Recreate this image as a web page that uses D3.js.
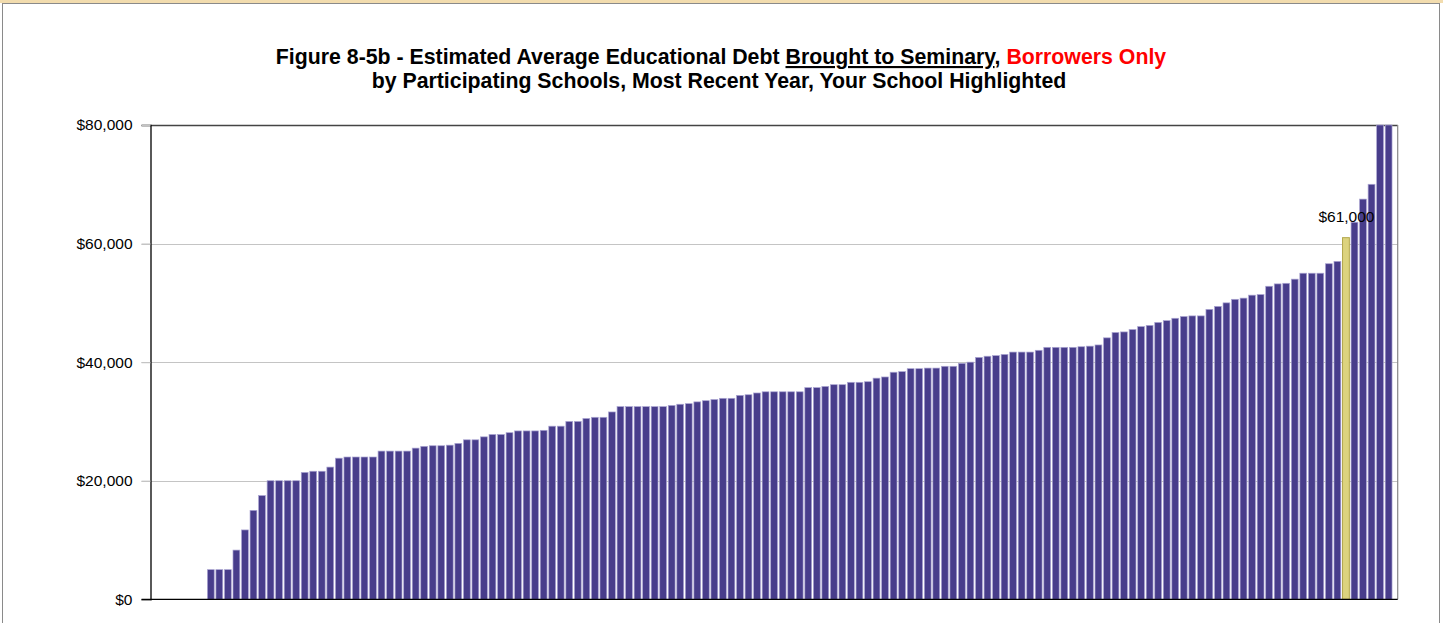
<!DOCTYPE html>
<html>
<head>
<meta charset="utf-8">
<script src="https://cdn.jsdelivr.net/npm/d3@7"></script>
<style>
  html, body { margin: 0; padding: 0; background: #fff; }
  svg { display: block; font-family: "Liberation Sans", Arial, sans-serif; }
</style>
</head>
<body>
<svg id="chart" width="1443" height="623"></svg>
<script>
// ---- data ----
// Schools (first six have no reported value)
const debt = [
  null, null, null, null, null, null,
  5000, 5000, 5000, 8300, 11700, 15000, 17500, 20000, 20000, 20000,
  20000, 21400, 21600, 21600, 22300, 23800, 24000, 24000, 24000, 24000,
  25000, 25000, 25000, 25000, 25500, 25800, 25900, 25900, 26000, 26300,
  26900, 26900, 27400, 27800, 27800, 28100, 28400, 28400, 28400, 28500,
  29200, 29200, 30000, 30000, 30500, 30700, 30700, 31600, 32500, 32500,
  32500, 32500, 32500, 32500, 32700, 32900, 33000, 33300, 33500, 33700,
  33900, 33900, 34400, 34500, 34800, 35000, 35000, 35000, 35000, 35000,
  35700, 35700, 35900, 36200, 36200, 36600, 36600, 36700, 37300, 37500,
  38300, 38400, 38900, 38900, 39000, 39000, 39300, 39300, 39800, 40000,
  40800, 41000, 41100, 41300, 41700, 41700, 41700, 42000, 42500, 42500,
  42500, 42500, 42600, 42700, 42900, 44100, 45000, 45100, 45500, 46000,
  46200, 46700, 47000, 47400, 47700, 47800, 47800, 48900, 49400, 50000,
  50600, 50800, 51300, 51400, 52800, 53200, 53300, 54000, 55000, 55000,
  55000, 56600, 57000, 61000, 63600, 67500, 70000, 85000, 90000
];
const schools = debt.map((d, i) => "School " + (i + 1));
const yourSchool = "School 140";
const yourLabel = "$61,000";
const yTicks = [0, 20000, 40000, 60000, 80000];
const yTickLabels = ["$0", "$20,000", "$40,000", "$60,000", "$80,000"];

// ---- layout ----
const svg = d3.select("#chart");
const W = 1443, H = 623;
const plot = { left: 150.5, right: 1397.7, top: 125, bottom: 599.3 };

// frame
svg.append("rect").attr("x", 0).attr("y", 0).attr("width", W).attr("height", 3).attr("fill", "#f2dcae");
svg.append("rect").attr("x", 2.5).attr("y", 3.5).attr("width", 1437).attr("height", 640)
  .attr("fill", "#fff").attr("stroke", "#8a8a8a").attr("stroke-width", 1);

// title
const t1 = svg.append("text").attr("x", 721).attr("y", 64).attr("text-anchor", "middle")
  .attr("font-size", 21.3).attr("font-weight", "bold").attr("fill", "#000");
t1.append("tspan").text("Figure 8-5b - Estimated Average Educational Debt ");
t1.append("tspan").attr("text-decoration", "underline").text("Brought to Seminary");
t1.append("tspan").text(", ");
t1.append("tspan").attr("fill", "#ff0000").text("Borrowers Only");
svg.append("text").attr("x", 719).attr("y", 88).attr("text-anchor", "middle")
  .attr("font-size", 21.3).attr("font-weight", "bold").attr("fill", "#000")
  .text("by Participating Schools, Most Recent Year, Your School Highlighted");

// scales
const x = d3.scaleBand().domain(schools).range([plot.left, plot.right])
  .paddingInner(0.2).paddingOuter(0.665);
const y = d3.scaleLinear().domain([0, 80000]).range([plot.bottom, plot.top]).clamp(true);

// gridlines
svg.append("g").selectAll("line").data(yTicks.filter(v => v > 0 && v < 80000)).join("line")
  .attr("x1", plot.left - 9).attr("x2", plot.right)
  .attr("y1", d => Math.round(y(d)) + 0.5).attr("y2", d => Math.round(y(d)) + 0.5)
  .attr("stroke", "#c4c4c4").attr("stroke-width", 1.2);

// plot border (top/right)
svg.append("line").attr("x1", plot.left).attr("x2", plot.right).attr("y1", plot.top + 0.5).attr("y2", plot.top + 0.5)
  .attr("stroke", "#444").attr("stroke-width", 1.3);
svg.append("line").attr("x1", plot.right).attr("x2", plot.right).attr("y1", plot.top).attr("y2", plot.bottom)
  .attr("stroke", "#888").attr("stroke-width", 1.2);

// bars
const barData = schools.map((s, i) => ({ s, v: debt[i] })).filter(d => d.v != null);
svg.append("g").selectAll("rect").data(barData).join("rect")
  .attr("x", d => x(d.s))
  .attr("width", x.bandwidth())
  .attr("y", d => y(d.v))
  .attr("height", d => y(0) - y(d.v))
  .attr("fill", d => d.s === yourSchool ? "#dcd37e" : "#483d8b")
  .attr("stroke", d => d.s === yourSchool ? "#b3a84e" : "#aaa4d2")
  .attr("stroke-width", d => d.s === yourSchool ? 1 : 0.7);

// y axis
const yAxis = d3.axisLeft(y).tickValues(yTicks).tickFormat((d, i) => yTickLabels[i])
  .tickSize(9).tickPadding(9);
const ga = svg.append("g").attr("transform", `translate(${plot.left},0)`).call(yAxis);
ga.select(".domain").attr("stroke", "#000").attr("stroke-width", 1.3);
ga.selectAll(".tick line").attr("stroke", "#c4c4c4").attr("stroke-width", 1.2);
ga.selectAll(".tick text").attr("font-size", 15.5).attr("fill", "#000")
  .attr("font-family", "'Liberation Sans', Arial, sans-serif");

// x axis baseline
svg.append("line").attr("x1", plot.left - 9).attr("x2", plot.right)
  .attr("y1", plot.bottom).attr("y2", plot.bottom).attr("stroke", "#000").attr("stroke-width", 1.3);

// highlight label
const hv = debt[schools.indexOf(yourSchool)];
svg.append("text").attr("x", x(yourSchool) + x.bandwidth() / 2 + 0.5).attr("y", y(hv) - 16)
  .attr("text-anchor", "middle").attr("font-size", 15.5).attr("fill", "#000").text(yourLabel);
</script>
</body>
</html>
